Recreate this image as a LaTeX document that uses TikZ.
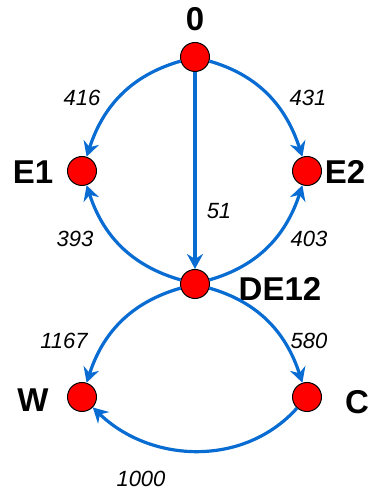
\documentclass[tikz,border=0pt]{standalone}
\usepackage{fontspec}
\setmainfont{Liberation Sans}
\usetikzlibrary{arrows.meta}
\definecolor{edgeblue}{RGB}{8,108,210}
\definecolor{nodered}{RGB}{255,0,0}
\begin{document}
\begin{tikzpicture}[x=1pt,y=1pt,
  vtx/.style={circle,draw=black,line width=1pt,fill=nodered,minimum size=29pt,inner sep=0pt},
  vname/.style={font=\fontsize{33}{33}\selectfont\bfseries},
  wlabel/.style={font=\fontsize{22}{22}\selectfont\itshape},
  conn/.style={draw=edgeblue,line width=3.2pt,-{Stealth[length=15pt,width=16pt,inset=5pt]}}]
\useasboundingbox (0,0) rectangle (376,493);
\node[vtx] (n0) at (195,493-57) {};
\node[vtx] (e1) at (82,493-171) {};
\node[vtx] (e2) at (307,493-171) {};
\node[vtx] (de) at (195,493-284) {};
\node[vtx] (w) at (82,493-397) {};
\node[vtx] (c) at (307,493-397) {};
\node[vname] (l0) at (195,493-19) {0};
\node[vname] (le1) at (33,493-172) {E1};
\node[vname] (le2) at (345,493-172) {E2};
\node[vname] (lde) at (280,493-289) {DE12};
\node[vname] (lw) at (33,493-400) {W};
\node[vname] (lc) at (357,493-402) {C};
\draw[conn] (n0) to[out=196,in=72] (e1);
\draw[conn] (n0) to[out=-16,in=108] (e2);
\draw[conn] (n0) -- (de);
\draw[conn] (de) to[out=164,in=-72] (e1);
\draw[conn] (de) to[out=16,in=252] (e2);
\draw[conn] (de) to[out=196,in=72] (w);
\draw[conn] (de) to[out=-16,in=108] (c);
\draw[conn] (c) to[out=228,in=-44] (w);
\node[wlabel] (t416) at (82,493-98) {416};
\node[wlabel] (t431) at (308,493-98) {431};
\node[wlabel] (t51) at (219,493-211) {51};
\node[wlabel] (t393) at (75,493-239) {393};
\node[wlabel] (t403) at (309,493-239) {403};
\node[wlabel] (t1167) at (64,493-341) {1167};
\node[wlabel] (t580) at (309,493-341) {580};
\node[wlabel] (t1000) at (141,493-479) {1000};
\end{tikzpicture}
\end{document}
